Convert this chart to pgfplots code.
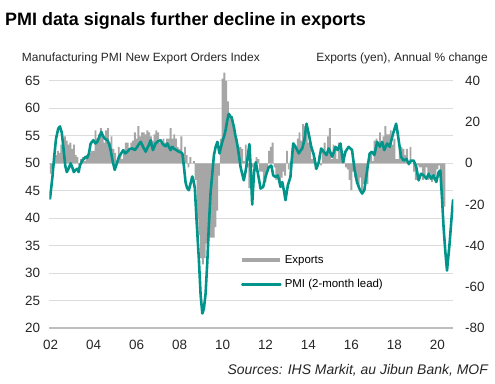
\documentclass[border=0pt]{standalone}
\usepackage{pgfplots}
\pgfplotsset{compat=1.18}
\usepackage{pgfplotstable}
\usepackage{fontspec}
\setmainfont{Liberation Sans}

\definecolor{pmiteal}{RGB}{0,148,138}
\definecolor{bargrey}{RGB}{166,166,166}
\definecolor{gridgrey}{RGB}{220,220,220}
\definecolor{axisgrey}{RGB}{190,190,190}

% Exports (yen), annual % change, monthly from Jan 2002
\pgfplotstableread[row sep=\\, header=true]{
val\\
-5\\ -3\\ 2\\ 4\\ 6\\ 5\\ 9\\ 8\\ 13\\ 11\\ 9\\ 10\\
7\\ 9\\ 4\\ 3\\ -1\\ 2\\ 3\\ 1\\ 4\\ 3\\ 5\\ 6\\
6\\ 16\\ 12\\ 14\\ 17\\ 13\\ 10\\ 16\\ 17\\ 10\\ 13\\ 7\\
5\\ 1\\ 8\\ 4\\ 2\\ 6\\ 10\\ 10\\ 6\\ 10\\ 11\\ 15\\
12\\ 18\\ 13\\ 15\\ 15\\ 14\\ 16\\ 15\\ 13\\ 11\\ 14\\ 16\\
15\\ 10\\ 10\\ 12\\ 10\\ 12\\ 12\\ 17\\ 12\\ 14\\ 12\\ 8\\
7\\ 13\\ 3\\ 8\\ 4\\ -2\\ 3\\ 0\\ 1\\ -8\\ -27\\ -35\\
-46\\ -49\\ -46\\ -39\\ -41\\ -36\\ -36\\ -36\\ -31\\ -23\\ -6\\ 12\\
41\\ 44\\ 40\\ 30\\ 24\\ 22\\ 18\\ 14\\ 12\\ 8\\ 8\\ 7\\
1\\ 9\\ -2\\ -12\\ -10\\ -2\\ -4\\ 3\\ 2\\ -4\\ -4\\ -8\\
-9\\ -3\\ 6\\ 8\\ 10\\ -2\\ -8\\ -6\\ -10\\ -7\\ -4\\ -6\\
6\\ -3\\ 1\\ 4\\ 10\\ 7\\ 12\\ 15\\ 11\\ 19\\ 18\\ 15\\
10\\ 10\\ 2\\ 5\\ -3\\ -2\\ 4\\ -1\\ 7\\ 10\\ 5\\ 13\\
17\\ 2\\ 9\\ 8\\ 2\\ 10\\ 8\\ 3\\ 1\\ -2\\ -3\\ -8\\
-13\\ -4\\ -7\\ -10\\ -11\\ -7\\ -14\\ -10\\ -7\\ -10\\ 0\\ 5\\
1\\ 11\\ 12\\ 8\\ 15\\ 10\\ 13\\ 18\\ 14\\ 14\\ 16\\ 9\\
12\\ 2\\ 2\\ 8\\ 8\\ 7\\ 4\\ 7\\ -1\\ 8\\ 0\\ -4\\
-8\\ -1\\ -2\\ -2\\ -8\\ -7\\ -2\\ -8\\ -5\\ -9\\ -8\\ -6\\
-3\\ -1\\ -12\\ -20\\ -21\\
}\exports

% Manufacturing PMI New Export Orders Index (2-month lead)
\pgfplotstableread{
t v
2001.97 43.6
2002.08 47.5
2002.17 51.5
2002.25 54.5
2002.35 56.3
2002.43 56.7
2002.52 55.5
2002.60 52.5
2002.68 49.5
2002.75 48.4
2002.85 49.2
2002.93 50.0
2003.00 49.3
2003.08 48.4
2003.16 48.8
2003.24 49.0
2003.30 48.4
2003.36 49.6
2003.47 50.5
2003.55 50.8
2003.63 51.2
2003.70 51.0
2003.78 51.8
2003.86 53.6
2003.99 54.2
2004.08 53.6
2004.17 53.9
2004.26 54.8
2004.36 55.7
2004.43 55.0
2004.51 54.5
2004.64 54.2
2004.72 53.5
2004.79 52.4
2004.88 50.5
2004.98 48.8
2005.08 50.0
2005.18 51.2
2005.28 51.8
2005.38 52.4
2005.47 51.8
2005.57 52.1
2005.68 52.6
2005.80 52.7
2005.92 52.4
2006.03 53.0
2006.11 53.5
2006.19 53.9
2006.30 53.0
2006.42 52.1
2006.50 52.8
2006.57 53.3
2006.65 54.2
2006.76 52.4
2006.88 53.6
2007.00 54.0
2007.12 54.2
2007.20 53.6
2007.27 53.3
2007.35 53.1
2007.43 53.6
2007.50 53.0
2007.58 52.4
2007.66 53.0
2007.73 52.7
2007.85 52.4
2007.97 52.1
2008.05 52.0
2008.13 51.8
2008.20 49.5
2008.28 46.5
2008.35 45.5
2008.43 45.1
2008.51 46.3
2008.59 47.6
2008.65 46.8
2008.71 45.5
2008.80 39.0
2008.90 32.4
2008.98 26.0
2009.06 22.7
2009.13 23.5
2009.21 26.3
2009.29 32.0
2009.36 38.4
2009.44 44.5
2009.52 48.0
2009.60 51.5
2009.68 53.0
2009.76 53.9
2009.86 51.8
2009.93 53.0
2010.01 54.2
2010.08 55.0
2010.14 56.0
2010.22 57.8
2010.29 59.0
2010.36 58.5
2010.42 58.4
2010.53 56.6
2010.60 55.0
2010.68 53.6
2010.76 51.5
2010.84 49.3
2010.92 48.0
2010.99 46.9
2011.07 48.5
2011.15 50.5
2011.25 53.5
2011.30 50.0
2011.38 42.5
2011.47 48.5
2011.55 50.2
2011.63 48.5
2011.70 47.0
2011.77 45.4
2011.89 45.7
2012.00 47.5
2012.08 48.5
2012.15 49.3
2012.27 49.6
2012.36 47.8
2012.47 47.5
2012.57 47.8
2012.64 46.8
2012.70 45.7
2012.78 46.6
2012.86 45.0
2012.93 43.3
2013.04 46.0
2013.16 47.5
2013.22 50.5
2013.29 53.6
2013.40 53.0
2013.55 51.8
2013.63 52.3
2013.71 52.7
2013.81 54.2
2013.91 57.2
2014.01 55.4
2014.13 53.0
2014.25 51.5
2014.37 49.0
2014.48 50.2
2014.59 52.7
2014.71 52.1
2014.84 51.5
2014.94 52.7
2015.02 52.0
2015.10 51.2
2015.18 52.0
2015.26 53.0
2015.36 52.4
2015.49 53.6
2015.61 50.2
2015.72 52.1
2015.87 53.0
2016.03 52.4
2016.14 49.0
2016.26 46.6
2016.34 45.7
2016.42 45.0
2016.50 44.5
2016.60 45.1
2016.73 48.7
2016.85 51.8
2016.96 52.1
2017.07 51.5
2017.20 53.9
2017.32 53.0
2017.43 53.9
2017.53 52.4
2017.66 53.6
2017.78 53.0
2017.94 55.4
2018.01 56.3
2018.08 57.2
2018.14 55.8
2018.20 54.2
2018.31 51.2
2018.43 50.5
2018.56 50.8
2018.67 49.9
2018.78 50.5
2018.90 50.5
2019.02 49.3
2019.13 46.9
2019.24 48.1
2019.36 47.8
2019.49 47.2
2019.60 48.1
2019.71 47.2
2019.83 47.8
2019.95 46.6
2020.06 48.4
2020.14 48.7
2020.22 43.5
2020.29 38.4
2020.37 34.0
2020.45 30.5
2020.57 35.4
2020.65 39.5
2020.73 43.3
}\pmi

\pgfplotsset{
  base/.style={
    scale only axis, width=404bp, height=255.75bp,
    at={(49.3bp,55.7bp)}, anchor=south west,
    xmin=2001.935, xmax=2020.743,
    tick style={draw=none}, major tick length=0pt,
    /pgf/number format/assume math mode=true,
    tick label style={font=\fontsize{13.5}{16}\selectfont, text=black!85},
  },
}

\begin{document}
\begin{tikzpicture}
\useasboundingbox (0,0) rectangle (495bp,384bp);

% title and axis titles
\node[anchor=base west, inner sep=0pt, font=\bfseries\fontsize{18}{21}\selectfont] at (5bp,358bp) {PMI data signals further decline in exports};
\node[anchor=base west, inner sep=0pt, font=\fontsize{12}{14}\selectfont, text=black!85] at (21.7bp,322bp) {Manufacturing PMI New Export Orders Index};
\node[anchor=base east, inner sep=0pt, font=\fontsize{12}{14}\selectfont, text=black!85] at (488bp,322bp) {Exports (yen), Annual \% change};
\node[anchor=base east, inner sep=0pt, font=\itshape\fontsize{14}{16}\selectfont, text=black!85] at (488bp,10bp) {Sources: IHS Markit, au Jibun Bank, MOF};

% axis 1: grid, left ticks, x ticks
\begin{axis}[base,
  ymin=20, ymax=66.5,
  ytick={20,25,...,65},
  xtick={2002,2004,...,2020},
  xticklabels={02,04,06,08,10,12,14,16,18,20},
  ymajorgrids, grid style={gridgrey, line width=0.9pt},
  axis lines*=left,
  x axis line style={axisgrey, line width=2.2pt},
  y axis line style={draw=none},
  yticklabel style={inner sep=0pt, anchor=east, xshift=-9bp},
  xticklabel style={inner sep=0pt, anchor=north, yshift=-11.5bp},
]
\addplot[draw=none] coordinates {(2005,30)};
\end{axis}

% axis 2: exports bars, right scale
\begin{axis}[base,
  ymin=-80, ymax=44,
  ytick={-80,-60,...,40},
  hide x axis,
  axis y line*=right,
  y axis line style={draw=none},
  yticklabel style={inner sep=0pt, anchor=west, xshift=11.7bp},
]
\addplot[ybar, bar width=0.0875, fill=bargrey, draw=none]
  table[x expr=2002+\coordindex/12, y=val] {\exports};
\end{axis}

% axis 3: PMI line, left scale
\begin{axis}[base,
  ymin=20, ymax=66.5,
  hide axis,
  legend cell align=left,
  legend image code/.code={\draw[#1] (0bp,0bp) -- (38bp,0bp);},
  legend style={at={(axis description cs:0.472,0.218)}, anchor=west,
    draw=none, fill=none, inner sep=0pt, row sep=10bp,
    nodes={inner sep=2.3bp}, font=\fontsize{11.5}{13}\selectfont},
]
\addlegendimage{bargrey, line width=4.3pt}
\addlegendentry{Exports}
\addplot[pmiteal, line width=2.6pt, line join=round, line cap=round]
  table[x=t, y=v] {\pmi};
\addlegendentry{PMI (2-month lead)}
\end{axis}
\end{tikzpicture}
\end{document}
